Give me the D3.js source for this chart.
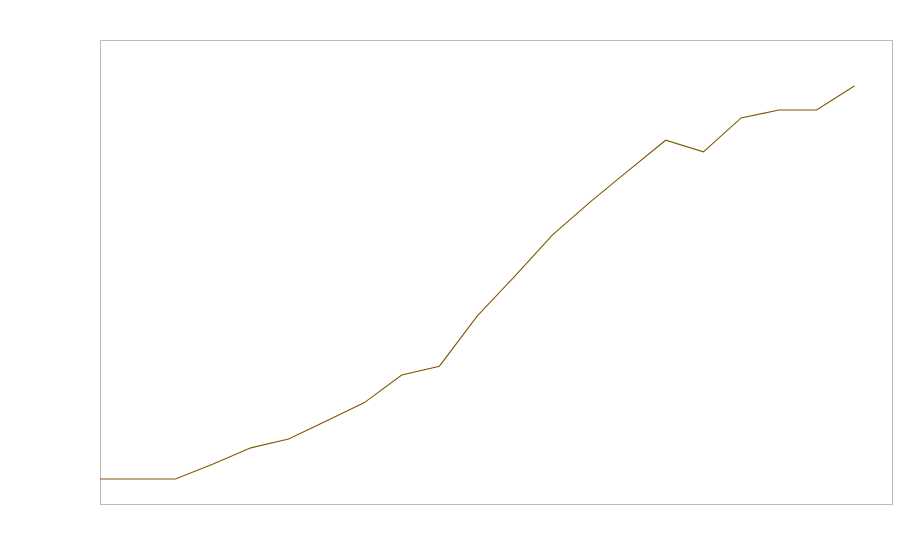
<!DOCTYPE html>
<html>
<head>
<meta charset="utf-8">
<script src="https://cdnjs.cloudflare.com/ajax/libs/d3/7.8.5/d3.min.js"></script>
<style>
  body { margin: 0; background: #fff; }
  #root { width: 900px; height: 560px; }
</style>
</head>
<body>
<div id="root"></div>
<script>
// series (no axis labels in the source, arbitrary 0-100 units)
var periods = d3.range(0, 21);
var values = [5.4, 5.4, 5.4, 8.6, 12.1, 14.0, 17.9, 21.8, 27.8, 29.7, 40.5,
              49.1, 58.0, 65.1, 71.8, 78.4, 75.9, 83.2, 84.9, 84.9, 90.1];

var width = 900, height = 560;
var margin = {top: 40, right: 8, bottom: 56, left: 100};

var svg = d3.select("#root").append("svg")
    .attr("width", width)
    .attr("height", height);

var innerW = width - margin.left - margin.right,
    innerH = height - margin.top - margin.bottom;

var x = d3.scaleLinear()
    .domain([0, periods.length])
    .range([margin.left, margin.left + innerW]);

var y = d3.scaleLinear()
    .domain([0, 100])
    .range([margin.top + innerH, margin.top]);

// plot frame
svg.append("rect")
    .attr("x", margin.left + 0.5)
    .attr("y", margin.top + 0.5)
    .attr("width", innerW)
    .attr("height", innerH)
    .attr("fill", "none")
    .attr("stroke", "#bdbdbd")
    .attr("stroke-width", 1);

var line = d3.line()
    .x(function(d, i){ return x(periods[i]); })
    .y(function(d){ return y(d); });

svg.append("path")
    .datum(values)
    .attr("d", line)
    .attr("fill", "none")
    .attr("stroke", "#7f5700")
    .attr("stroke-width", 1.1);
</script>
</body>
</html>
